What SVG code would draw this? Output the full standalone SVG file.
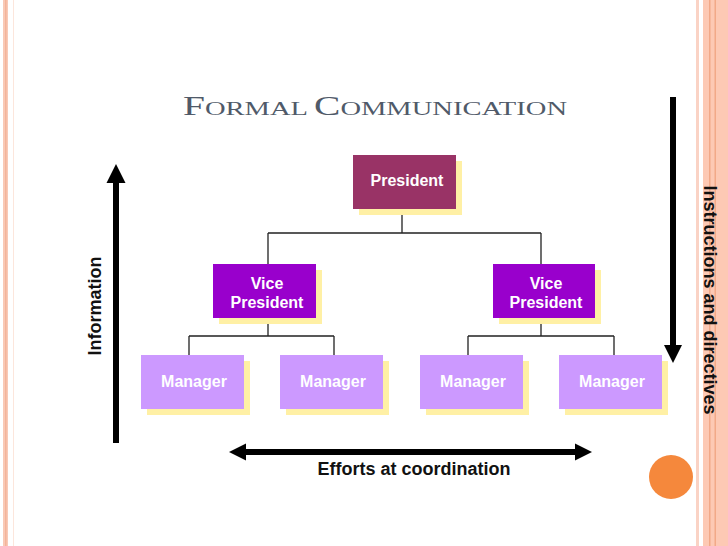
<svg xmlns="http://www.w3.org/2000/svg" width="728" height="546" viewBox="0 0 728 546">
<style>
.shadow{fill:#FFF0A5}
.pres{fill:#993366}
.vp{fill:#9900CC}
.mgr{fill:#CC99FF}
.lbl{font-family:"Liberation Sans",Arial,sans-serif;font-weight:bold;font-size:16px;fill:#FFFFFF;text-anchor:middle}
.cap{font-family:"Liberation Sans",Arial,sans-serif;font-weight:bold;font-size:18px;fill:#111111;text-anchor:middle}
.conn{stroke:#222222;stroke-width:1.3;fill:none}
.big{stroke:#000000;stroke-width:6;fill:none}
.head{fill:#000000}
</style>
<rect x="0" y="0" width="728" height="546" fill="#FFFFFF"/>
<g id="borders">
<rect x="3" y="0" width="5" height="546" fill="#F9C9B6"/>
<rect x="5" y="0" width="1.5" height="546" fill="#F3B49A"/>
<rect x="13" y="0" width="1" height="546" fill="#FCE6DC"/>
<rect x="696" y="0" width="3" height="546" fill="#FAD3C5"/>
<rect x="703" y="0" width="25" height="546" fill="#FDC9B4"/>
<rect x="709" y="0" width="1.5" height="546" fill="#F2A988"/>
<rect x="714.5" y="0" width="1.5" height="546" fill="#F2A988"/>
</g>
<circle cx="671" cy="477" r="22" fill="#F5883C"/>
<text x="183" y="115" font-family="'Liberation Serif','Times New Roman',serif" fill="#505A69" textLength="384" lengthAdjust="spacingAndGlyphs"><tspan font-size="27">F</tspan><tspan font-size="19.5">ORMAL </tspan><tspan font-size="27">C</tspan><tspan font-size="19.5">OMMUNICATION</tspan></text>
<g id="connectors">
<path class="conn" d="M402,209 V233 M268,233 H541 M268,233 V264 M541,233 V264"/>
<path class="conn" d="M268,318 V336 M189,336 H334 M189,336 V355 M334,336 V355"/>
<path class="conn" d="M541,318 V336 M468,336 H614 M468,336 V355 M614,336 V355"/>
<line class="big" x1="116" y1="180" x2="116" y2="443"/>
<polygon class="head" points="116,164 106.5,183 125.5,183"/>
<line class="big" x1="673" y1="97" x2="673" y2="348"/>
<polygon class="head" points="673,363 664,345 682,345"/>
<line class="big" x1="243" y1="452" x2="578" y2="452"/>
<polygon class="head" points="229,452 246,443.5 246,460.5"/>
<polygon class="head" points="592,452 575,443.5 575,460.5"/>
</g>
<g id="president">
<rect class="shadow" x="359" y="161" width="103" height="54"/>
<rect class="pres" x="353" y="155" width="103" height="54"/>
<text class="lbl" x="407" y="186">President</text>
</g>
<g id="vp-left">
<rect class="shadow" x="219" y="270" width="103" height="54"/>
<rect class="vp" x="213" y="264" width="103" height="54"/>
<text class="lbl" x="267" y="288.5">Vice</text>
<text class="lbl" x="267" y="308">President</text>
</g>
<g id="vp-right">
<rect class="shadow" x="499" y="270" width="102" height="54"/>
<rect class="vp" x="493" y="264" width="102" height="54"/>
<text class="lbl" x="546" y="288.5">Vice</text>
<text class="lbl" x="546" y="308">President</text>
</g>
<g id="manager-1">
<rect class="shadow" x="147" y="361" width="103" height="54"/>
<rect class="mgr" x="141" y="355" width="103" height="54"/>
<text class="lbl" x="194" y="387">Manager</text>
</g>
<g id="manager-2">
<rect class="shadow" x="286" y="361" width="103" height="54"/>
<rect class="mgr" x="280" y="355" width="103" height="54"/>
<text class="lbl" x="333" y="387">Manager</text>
</g>
<g id="manager-3">
<rect class="shadow" x="426" y="361" width="103" height="54"/>
<rect class="mgr" x="420" y="355" width="103" height="54"/>
<text class="lbl" x="473" y="387">Manager</text>
</g>
<g id="manager-4">
<rect class="shadow" x="565" y="361" width="103" height="54"/>
<rect class="mgr" x="559" y="355" width="103" height="54"/>
<text class="lbl" x="612" y="387">Manager</text>
</g>
<text class="cap" x="414" y="475">Efforts at coordination</text>
<text class="cap" transform="translate(100.5,306) rotate(-90)">Information</text>
<text class="cap" transform="translate(703.5,300) rotate(90)">Instructions and directives</text>
</svg>
